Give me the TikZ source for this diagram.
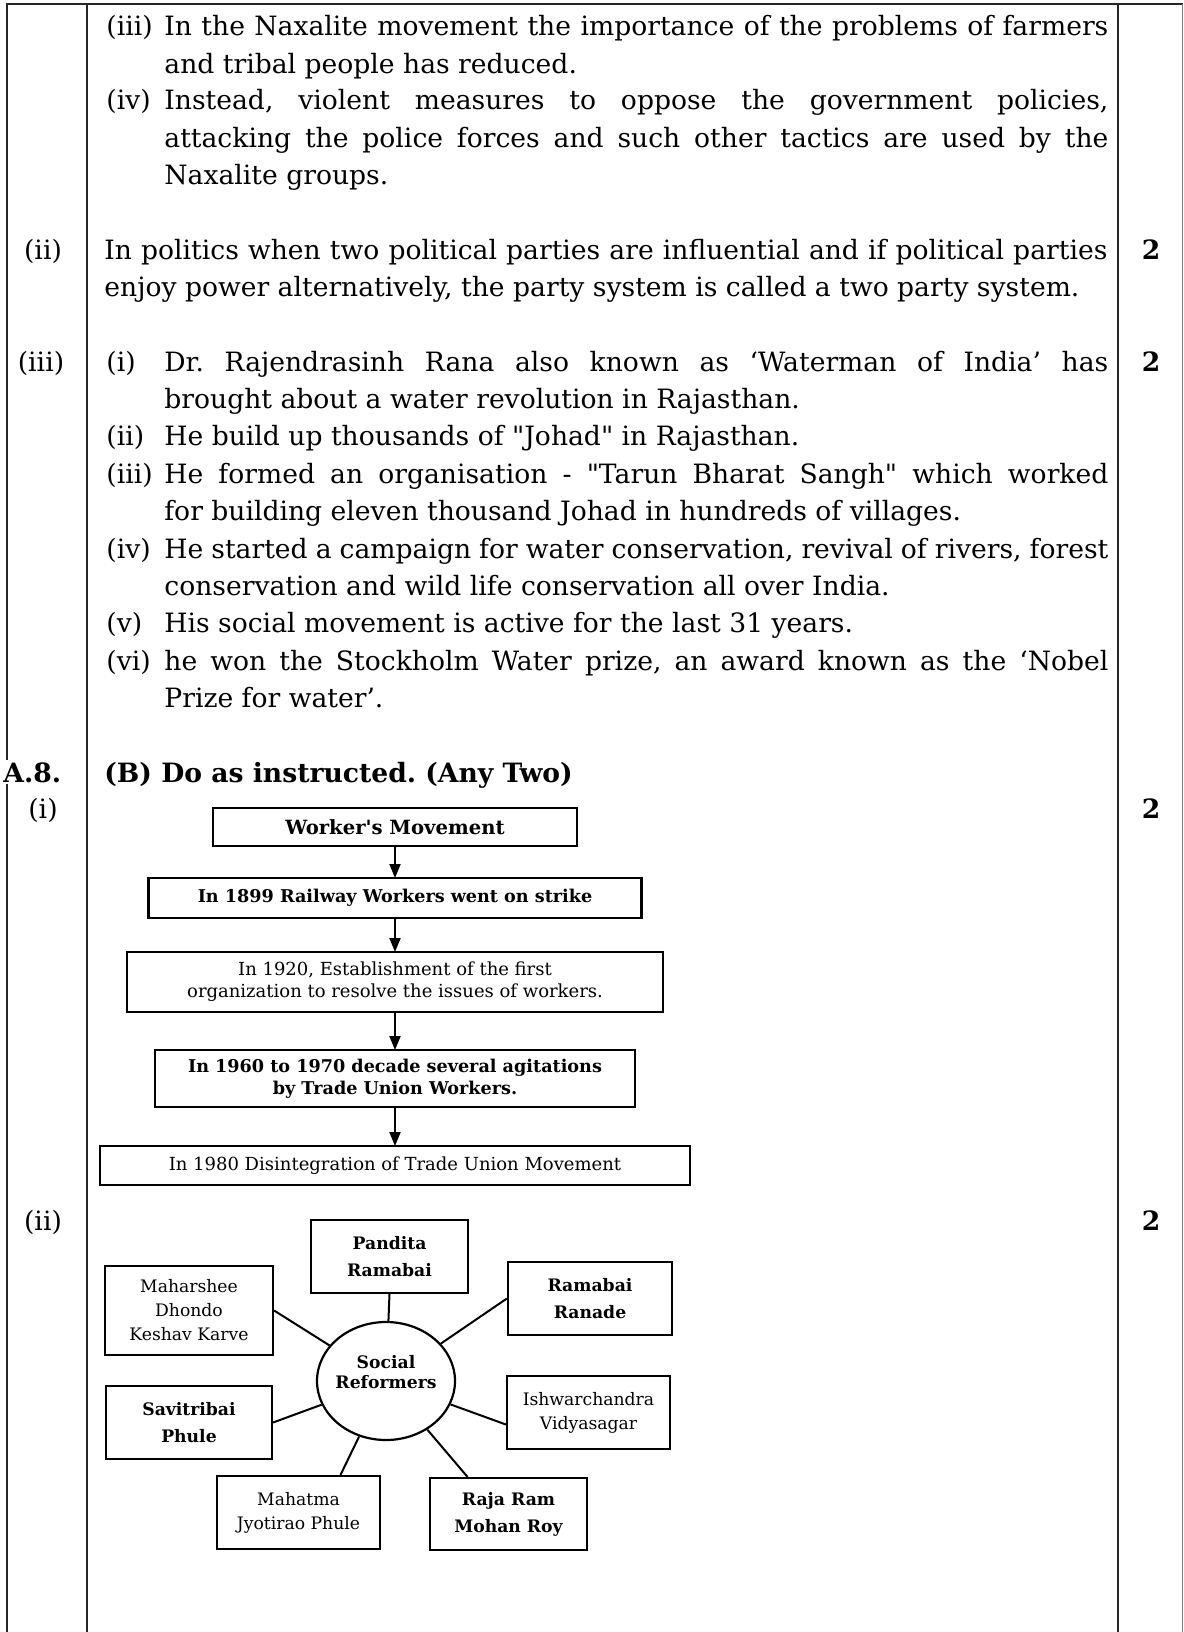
\documentclass[tikz,border=0pt]{standalone}
\usepackage{fontspec}
\setmainfont{DejaVu Serif}[Ligatures=TeXOff]
\usetikzlibrary{positioning,arrows.meta,shapes.geometric}
\sloppy
\frenchspacing
\hyphenpenalty=10000
\exhyphenpenalty=10000
\tikzset{
  rule/.style={line width=1.4pt,black!85},
  para/.style={anchor=base west,inner sep=0pt,align=justify,font=\fontsize{13.3}{18.7}\selectfont},
  item/.style={anchor=base west,inner sep=0pt,font=\fontsize{13.3}{18.7}\selectfont},
  qno/.style={anchor=base,inner sep=0pt,font=\fontsize{13.3}{18.7}\selectfont},
  score/.style={anchor=base,inner sep=0pt,font=\bfseries\fontsize{13.3}{15}\selectfont},
  head/.style={anchor=base west,inner sep=0pt,font=\bfseries\fontsize{13.3}{15}\selectfont},
  flow/.style={draw,line width=1.1pt,inner sep=2pt,outer sep=0pt,align=center,font=\fontsize{9}{11}\selectfont},
  bflow/.style={flow,font=\bfseries\fontsize{8.8}{11}\selectfont},
  flowarr/.style={-{Triangle[length=7pt,width=5.5pt]},line width=1pt},
  mind/.style={draw,line width=1.1pt,align=center,minimum height=36.5pt,font=\fontsize{8.6}{12}\selectfont},
  bmind/.style={mind,font=\bfseries\fontsize{8.6}{13.5}\selectfont},
  spoke/.style={line width=1pt}
}
\begin{document}
\begin{tikzpicture}[x=0.5pt,y=-0.5pt]
  \useasboundingbox (0,0) rectangle (1183,1632);
  \draw [rule] (7,1632) -- (7,4) -- (1183,4);
  \draw [rule] (87,4) -- (87,1632);
  \draw [rule] (1118,4) -- (1118,1632);
  \draw [line width=0.5pt,black!50] (1182,4) -- (1182,1632);

  \node (i3)  [item] at (106,36) {(iii)};
  \node (p3)  [para,text width=472pt] at (164,36) {In the Naxalite movement the importance of the problems of farmers\linebreak and tribal people has reduced.};
  \node (i4)  [item] at (106,110) {(iv)};
  \node (p4)  [para,text width=472pt] at (164,110) {Instead, violent measures to oppose the government policies,\linebreak attacking the police forces and such other tactics are used by the\linebreak Naxalite groups.};

  \node (q2)  [qno] at (43,259) {(ii)};
  \node (a2)  [para,text width=501.5pt] at (104,259) {In politics when two political parties are influential and if political parties\linebreak enjoy power alternatively, the party system is called a two party system.};
  \node (m2)  [score] at (1151,259) {2};

  \node (q3)  [qno] at (41,371) {(iii)};
  \node (m3)  [score] at (1151,371) {2};
  \node (r1)  [item] at (106,371) {(i)};
  \node (t1)  [para,text width=472pt] at (164,371) {Dr. Rajendrasinh Rana also known as ‘Waterman of India’ has\linebreak brought about a water revolution in Rajasthan.};
  \node (r2)  [item] at (106,445.8) {(ii)};
  \node (t2)  [para,text width=472pt] at (164,445.8) {He build up thousands of "Johad" in Rajasthan.};
  \node (r3)  [item] at (106,483.2) {(iii)};
  \node (t3)  [para,text width=472pt] at (164,483.2) {He formed an organisation - "Tarun Bharat Sangh" which worked\linebreak for building eleven thousand Johad in hundreds of villages.};
  \node (r4)  [item] at (106,558) {(iv)};
  \node (t4)  [para,text width=472pt] at (164,558) {He started a campaign for water conservation, revival of rivers, forest\linebreak conservation and wild life conservation all over India.};
  \node (r5)  [item] at (106,632.8) {(v)};
  \node (t5)  [para,text width=472pt] at (164,632.8) {His social movement is active for the last 31 years.};
  \node (r6)  [item] at (106,670.2) {(vi)};
  \node (t6)  [para,text width=472pt] at (164,670.2) {he won the Stockholm Water prize, an award known as the ‘Nobel\linebreak Prize for water’.};

  \node (a8)  [head,fill=white,inner sep=1pt] at (1,782) {A.8.};
  \node (hb)  [head] at (104,782) {(B) Do as instructed. (Any Two)};

  \node (q1)  [qno] at (43,818) {(i)};
  \node (m1)  [score] at (1151,818) {2};
  \node (wm)  [bflow,font=\bfseries\fontsize{9.8}{11}\selectfont,minimum width=182pt,minimum height=19pt] at (395,827) {Worker's Movement};
  \node (rs)  [bflow,minimum width=246.5pt,minimum height=20pt,below=16pt of wm] {In 1899 Railway Workers went on strike};
  \node (fo)  [flow,minimum width=268pt,minimum height=30pt,below=17pt of rs] {In 1920, Establishment of the first\\organization to resolve the issues of workers.};
  \node (ag)  [bflow,minimum width=240pt,minimum height=28.5pt,below=19pt of fo] {In 1960 to 1970 decade several agitations\\by Trade Union Workers.};
  \node (di)  [flow,minimum width=295pt,minimum height=19.5pt,below=19.5pt of ag] {In 1980 Disintegration of Trade Union Movement};

  \draw [flowarr] (wm) -- (rs);
  \draw [flowarr] (rs) -- (fo);
  \draw [flowarr] (fo) -- (ag);
  \draw [flowarr] (ag) -- (di);

  \node (q4)  [qno] at (43,1230) {(ii)};
  \node (m4)  [score] at (1151,1230) {2};
  \node (soc) [ellipse,draw,line width=1.1pt,minimum width=69pt,minimum height=59pt,
               label={[align=center,yshift=4.5pt,font=\bfseries\fontsize{8.6}{10}\selectfont]center:Social\\Reformers}] at (386,1381) {};
  \node (pr)  [bmind,minimum width=78.5pt] at (389.5,1256.5) {Pandita\\Ramabai};
  \node (rn)  [bmind,minimum width=82pt] at (590,1298.5) {Ramabai\\Ranade};
  \node (mk)  [mind,minimum width=84pt,minimum height=44.5pt] at (189,1310.5) {Maharshee\\Dhondo\\Keshav Karve};
  \node (sp)  [bmind,minimum width=83pt] at (189,1422.5) {Savitribai\\Phule};
  \node (iv)  [mind,minimum width=81.5pt] at (588.5,1412.5) {Ishwarchandra\\Vidyasagar};
  \node (mj)  [mind,minimum width=81.5pt] at (298.5,1512.5) {Mahatma\\Jyotirao Phule};
  \node (rm)  [bmind,minimum width=78.5pt,minimum height=36pt] at (508.5,1514) {Raja Ram\\Mohan Roy};

  \draw [spoke] (pr.south) -- (soc);
  \draw [spoke] (mk.east) -- (soc);
  \draw [spoke] (rn.west) -- (soc);
  \draw [spoke] (sp.east) -- (soc);
  \draw [spoke] ([yshift=-6pt]iv.west) -- (soc);
  \draw [spoke] ([xshift=21pt]mj.north) -- (soc);
  \draw [spoke] ([xshift=-20.5pt]rm.north) -- (soc);
\end{tikzpicture}
\end{document}
